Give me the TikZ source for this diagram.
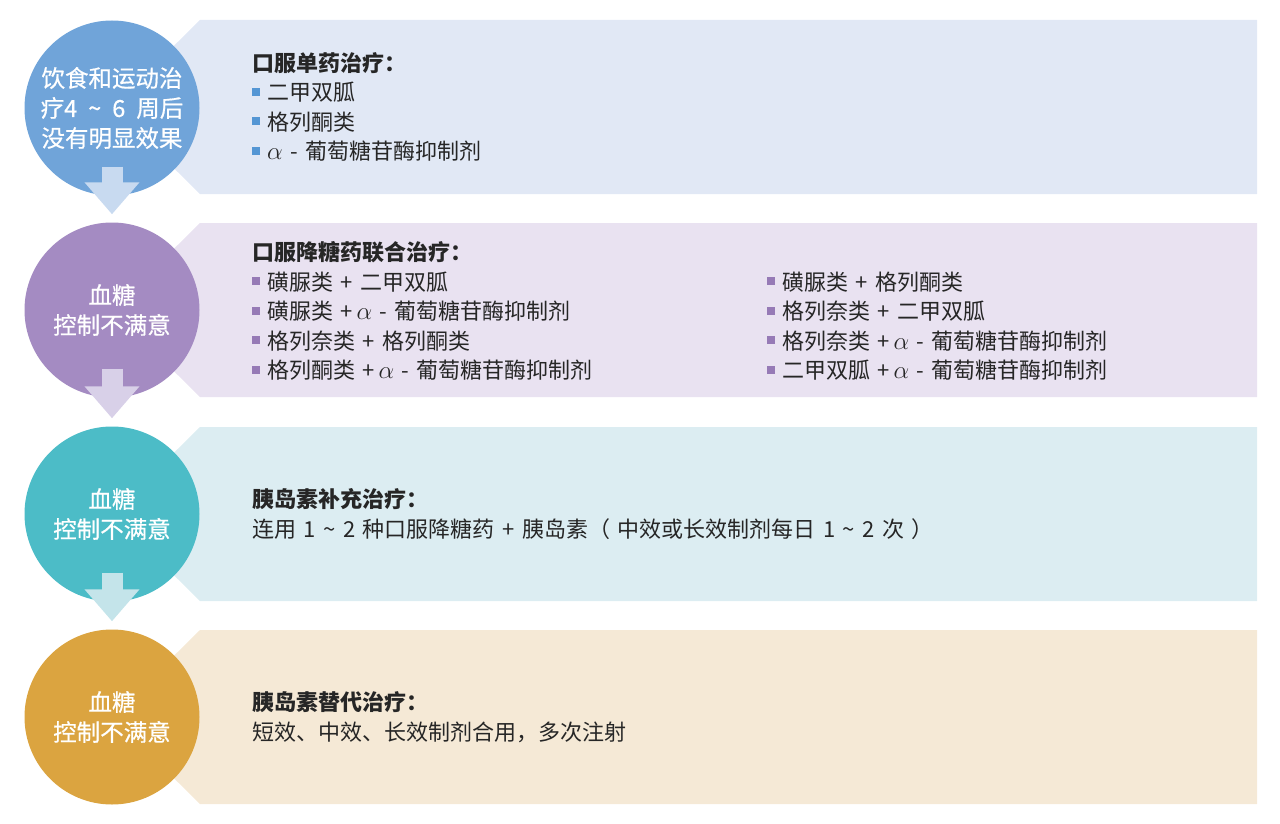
\documentclass[tikz,border=0pt]{standalone}
\usepackage{fontspec}
\setmainfont{Noto Sans CJK SC}
\newfontfamily\circfont[FakeBold=0.6]{Noto Sans CJK SC}
\usepackage{tikz}
\usetikzlibrary{calc,positioning,arrows.meta}

\definecolor{circA}{RGB}{112,164,217}
\definecolor{circB}{RGB}{164,139,194}
\definecolor{circC}{RGB}{76,188,199}
\definecolor{circD}{RGB}{219,164,64}
\definecolor{bandA}{RGB}{225,232,245}
\definecolor{bandB}{RGB}{233,226,241}
\definecolor{bandC}{RGB}{220,237,242}
\definecolor{bandD}{RGB}{245,233,214}
\definecolor{flowA}{RGB}{200,218,240}
\definecolor{flowB}{RGB}{216,208,232}
\definecolor{flowC}{RGB}{196,228,234}
\definecolor{bulA}{RGB}{84,150,212}
\definecolor{bulB}{RGB}{150,122,182}

\newcommand{\bul}[1]{{\color{#1}\rule[5pt]{8pt}{8pt}}\hspace{7pt}}
\newcommand{\tld}{\textasciitilde}
\newcommand{\alf}{{\fontsize{27}{29.5}\selectfont$\alpha$}}
\newcommand{\circtext}{\circfont\fontsize{23.5}{30}\selectfont\spaceskip 11pt\relax}
\newcommand{\infotext}{\fontsize{22}{29.5}\selectfont\spaceskip 7.5pt\relax}

\begin{document}
\begin{tikzpicture}[x=1pt,y=-1pt,
    every node/.style={inner sep=0pt},
    stage/.style={circle, minimum size=175pt, text=white, align=center, font=\circtext},
    info/.style={anchor=west, align=left, text=black!85, font=\infotext},
    flow/.style={line width=21pt, -{Triangle[length=32pt,width=53pt]}}]
        \useasboundingbox (0,0) rectangle (1280,824);

        \fill[bandA] (200,20) -- (1257,20) -- (1257,194) -- (200,194) -- (112,107) -- cycle;
        \fill[bandB] (200,223) -- (1257,223) -- (1257,397) -- (200,397) -- (112,310) -- cycle;
        \fill[bandC] (200,427) -- (1257,427) -- (1257,601) -- (200,601) -- (112,514) -- cycle;
        \fill[bandD] (200,630) -- (1257,630) -- (1257,804) -- (200,804) -- (112,717) -- cycle;

        \node[stage, fill=circA] (c1) at (112,108) {饮食和运动治\\疗4 \tld{} 6 周后\\没有明显效果};
        \node[stage, fill=circB] (c2) at (112,310) {血糖\\控制不满意};
        \node[stage, fill=circC] (c3) at (112,514) {血糖\\控制不满意};
        \node[stage, fill=circD] (c4) at (112,717) {血糖\\控制不满意};

        \draw[flow, flowA] ($(c1.south)+(0,-29)$) -- ($(c2.north)+(0,-8)$);
        \draw[flow, flowB] ($(c2.south)+(0,-29)$) -- ($(c3.north)+(0,-8)$);
        \draw[flow, flowC] ($(c3.south)+(0,-29)$) -- ($(c4.north)+(0,-8)$);

        \node[info] (t1) at (252,107) {\textbf{口服单药治疗：}\\
            \bul{bulA}二甲双胍\\
            \bul{bulA}格列酮类\\
            \bul{bulA}\alf{} - 葡萄糖苷酶抑制剂};
        \node[info] (t2) at (252,311) {\textbf{口服降糖药联合治疗：}\\
            \bul{bulB}磺脲类 + 二甲双胍\\
            \bul{bulB}磺脲类 +\,\alf{} - 葡萄糖苷酶抑制剂\\
            \bul{bulB}格列奈类 + 格列酮类\\
            \bul{bulB}格列酮类 +\,\alf{} - 葡萄糖苷酶抑制剂};
        \node[info] (t2r) at (767,326) {\bul{bulB}磺脲类 + 格列酮类\\
            \bul{bulB}格列奈类 + 二甲双胍\\
            \bul{bulB}格列奈类 +\,\alf{} - 葡萄糖苷酶抑制剂\\
            \bul{bulB}二甲双胍 +\,\alf{} - 葡萄糖苷酶抑制剂};
        \node[info] (t3) at (252,514) {\textbf{胰岛素补充治疗：}\\
            连用 1 \tld{} 2 种口服降糖药 + 胰岛素（ 中效或长效制剂每日 1 \tld{} 2 次 ）};
        \node[info] (t4) at (252,717) {\textbf{胰岛素替代治疗：}\\
            短效、中效、长效制剂合用，多次注射};
    \end{tikzpicture}
\end{document}
